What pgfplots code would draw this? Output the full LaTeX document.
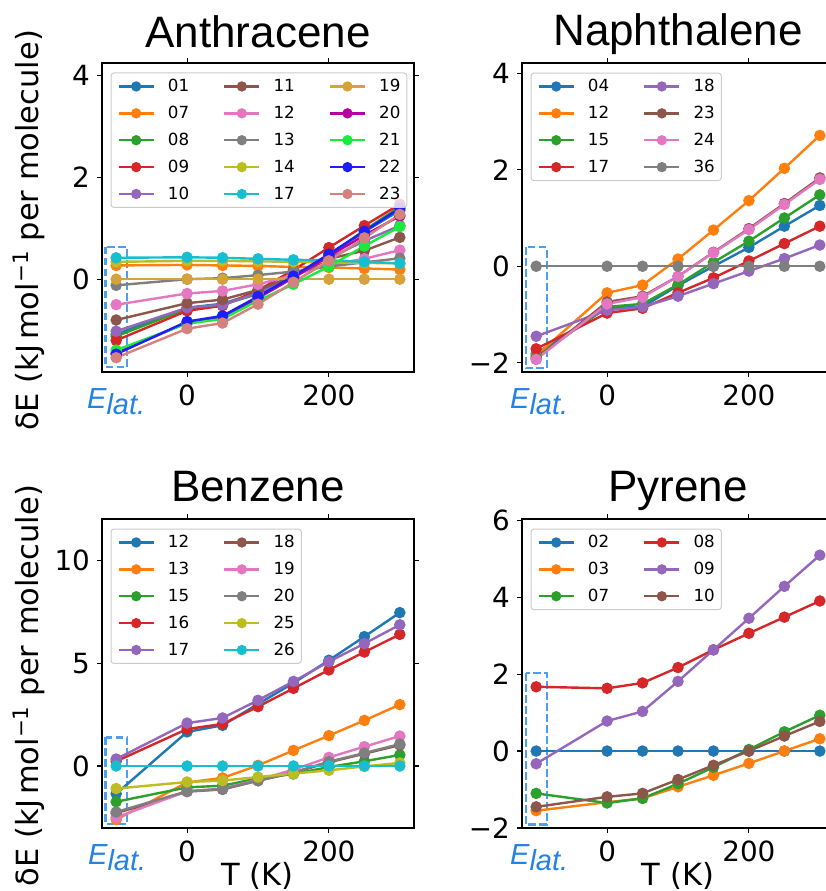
\documentclass[border=0pt]{standalone}
\usepackage{fontspec}
\setmainfont{DejaVu Sans}
\newfontfamily\arialfont{Liberation Sans}
\usepackage{pgfplots}
\pgfplotsset{compat=1.18}

\definecolor{c0}{RGB}{31,119,180}
\definecolor{c1}{RGB}{255,127,14}
\definecolor{c2}{RGB}{44,160,44}
\definecolor{c3}{RGB}{214,39,40}
\definecolor{c4}{RGB}{148,103,189}
\definecolor{c5}{RGB}{140,86,75}
\definecolor{c6}{RGB}{227,119,194}
\definecolor{c7}{RGB}{127,127,127}
\definecolor{c8}{RGB}{188,189,34}
\definecolor{c9}{RGB}{23,190,207}
\definecolor{cgold}{RGB}{214,162,58}
\definecolor{cmag}{RGB}{184,0,160}
\definecolor{clime}{RGB}{25,235,60}
\definecolor{cblue}{RGB}{30,30,250}
\definecolor{crosy}{RGB}{212,130,125}
\definecolor{elatblue}{RGB}{35,130,230}
\definecolor{boxblue}{RGB}{75,160,240}
\definecolor{legedge}{RGB}{204,204,204}

\pgfplotsset{
  myax/.style={
    scale only axis, width=312pt, height=309pt,
    xmin=-120, xmax=320,
    xtick={0,200}, xticklabels={0,200},
    tick align=outside, major tick length=4.9pt,
    tick style={black, line width=1.1pt},
    axis line style={line width=1.1pt},
    ticklabel style={font=\fontsize{27.8}{30}\selectfont, inner sep=0pt},
    xticklabel style={yshift=-8pt},
    yticklabel style={xshift=-7pt},
    every axis plot/.append style={line width=2.4pt, mark=*, mark size=4.5pt, mark options={solid}},
    legend style={at={(0,1)}, anchor=north west, xshift=8.5pt, yshift=-9.5pt,
      draw=legedge, line width=1pt, rounded corners=3pt, fill=white,
      fill opacity=0.8, draw opacity=1, text opacity=1,
      font=\fontsize{16.7}{18}\selectfont, inner sep=6.5pt, row sep=13pt,
      nodes={inner sep=0pt},
      /tikz/every odd column/.style={column sep=13pt},
      /tikz/every even column/.style={column sep=34pt}},
    legend image code/.code={\draw[line width=2.4pt, opacity=1] (0pt,0pt) -- (35pt,0pt);
      \fill[opacity=1] (17.5pt,0pt) circle (3.9pt);},
  },
  leg/.style={line width=2.4pt},
}

\begin{document}
\begin{tikzpicture}
% ---------------- Anthracene ----------------
\begin{axis}[myax, at={(102pt,-372pt)}, ymin=-1.82, ymax=4.24,
  ytick={0,2,4}, yticklabels={0,2,4}, legend columns=3]
\draw[boxblue, line width=2.1pt, dash pattern=on 7.7pt off 3.3pt] (axis cs:-115,0.64) rectangle (axis cs:-85,-1.73);
\addplot[c0, forget plot] coordinates {(-100,-1.08)(0,-0.56)(50,-0.48)(100,-0.26)(150,0.05)(200,0.49)(250,0.93)(300,1.35)};
\addplot[c1, forget plot] coordinates {(-100,0.27)(0,0.28)(50,0.27)(100,0.26)(150,0.24)(200,0.23)(250,0.21)(300,0.19)};
\addplot[c2, forget plot] coordinates {(-100,-1.12)(0,-0.58)(50,-0.50)(100,-0.29)(150,0.04)(200,0.47)(250,0.96)(300,1.42)};
\addplot[c3, forget plot] coordinates {(-100,-1.20)(0,-0.62)(50,-0.52)(100,-0.22)(150,0.18)(200,0.62)(250,1.05)(300,1.47)};
\addplot[c4, forget plot] coordinates {(-100,-1.02)(0,-0.56)(50,-0.50)(100,-0.27)(150,0.04)(200,0.41)(250,0.75)(300,1.05)};
\addplot[c5, forget plot] coordinates {(-100,-0.80)(0,-0.47)(50,-0.40)(100,-0.21)(150,0.06)(200,0.40)(250,0.56)(300,0.82)};
\addplot[c6, forget plot] coordinates {(-100,-0.50)(0,-0.28)(50,-0.23)(100,-0.10)(150,0.08)(200,0.28)(250,0.40)(300,0.57)};
\addplot[c7, forget plot] coordinates {(-100,-0.12)(0,0.00)(50,0.02)(100,0.08)(150,0.15)(200,0.25)(250,0.33)(300,0.41)};
\addplot[c8, forget plot] coordinates {(-100,0.34)(0,0.36)(50,0.36)(100,0.35)(150,0.34)(200,0.33)(250,0.32)(300,0.31)};
\addplot[c9, forget plot] coordinates {(-100,0.42)(0,0.43)(50,0.42)(100,0.40)(150,0.38)(200,0.37)(250,0.34)(300,0.31)};
\addplot[cgold, forget plot] coordinates {(-100,0)(0,0)(50,0)(100,0)(150,0)(200,0)(250,0)(300,0)};
\addplot[cmag, forget plot] coordinates {(-100,-1.45)(0,-0.85)(50,-0.74)(100,-0.37)(150,0.03)(200,0.45)(250,0.86)(300,1.24)};
\addplot[clime, forget plot] coordinates {(-100,-1.39)(0,-0.87)(50,-0.78)(100,-0.42)(150,-0.10)(200,0.25)(250,0.65)(300,1.03)};
\addplot[cblue, forget plot] coordinates {(-100,-1.47)(0,-0.83)(50,-0.72)(100,-0.34)(150,0.06)(200,0.49)(250,0.94)(300,1.39)};
\addplot[crosy, forget plot] coordinates {(-100,-1.54)(0,-0.97)(50,-0.86)(100,-0.49)(150,-0.06)(200,0.36)(250,0.81)(300,1.27)};
\addlegendimage{leg,c0}\addlegendentry{01}
\addlegendimage{leg,c5}\addlegendentry{11}
\addlegendimage{leg,cgold}\addlegendentry{19}
\addlegendimage{leg,c1}\addlegendentry{07}
\addlegendimage{leg,c6}\addlegendentry{12}
\addlegendimage{leg,cmag}\addlegendentry{20}
\addlegendimage{leg,c2}\addlegendentry{08}
\addlegendimage{leg,c7}\addlegendentry{13}
\addlegendimage{leg,clime}\addlegendentry{21}
\addlegendimage{leg,c3}\addlegendentry{09}
\addlegendimage{leg,c8}\addlegendentry{14}
\addlegendimage{leg,cblue}\addlegendentry{22}
\addlegendimage{leg,c4}\addlegendentry{10}
\addlegendimage{leg,c9}\addlegendentry{17}
\addlegendimage{leg,crosy}\addlegendentry{23}
\end{axis}
% ---------------- Naphthalene ----------------
\begin{axis}[myax, at={(522pt,-372pt)}, ymin=-2.19, ymax=4.21,
  ytick={-2,0,2,4}, yticklabels={−2,0,2,4}, legend columns=2]
\draw[boxblue, line width=2.1pt, dash pattern=on 7.7pt off 3.3pt] (axis cs:-115,0.40) rectangle (axis cs:-85,-2.11);
\addplot[c0, forget plot] coordinates {(-100,-1.81)(0,-0.86)(50,-0.84)(100,-0.40)(150,0.00)(200,0.39)(250,0.83)(300,1.26)};
\addplot[c1, forget plot] coordinates {(-100,-1.85)(0,-0.55)(50,-0.39)(100,0.15)(150,0.75)(200,1.36)(250,2.03)(300,2.71)};
\addplot[c2, forget plot] coordinates {(-100,-1.88)(0,-0.84)(50,-0.78)(100,-0.38)(150,0.08)(200,0.52)(250,1.00)(300,1.48)};
\addplot[c3, forget plot] coordinates {(-100,-1.71)(0,-0.97)(50,-0.87)(100,-0.55)(150,-0.24)(200,0.11)(250,0.47)(300,0.83)};
\addplot[c4, forget plot] coordinates {(-100,-1.45)(0,-0.91)(50,-0.84)(100,-0.62)(150,-0.36)(200,-0.10)(250,0.16)(300,0.44)};
\addplot[c5, forget plot] coordinates {(-100,-1.92)(0,-0.74)(50,-0.62)(100,-0.21)(150,0.29)(200,0.78)(250,1.30)(300,1.83)};
\addplot[c6, forget plot] coordinates {(-100,-1.93)(0,-0.78)(50,-0.64)(100,-0.21)(150,0.28)(200,0.76)(250,1.28)(300,1.80)};
\addplot[c7, forget plot] coordinates {(-100,0)(0,0)(50,0)(100,0)(150,0)(200,0)(250,0)(300,0)};
\addlegendimage{leg,c0}\addlegendentry{04}
\addlegendimage{leg,c4}\addlegendentry{18}
\addlegendimage{leg,c1}\addlegendentry{12}
\addlegendimage{leg,c5}\addlegendentry{23}
\addlegendimage{leg,c2}\addlegendentry{15}
\addlegendimage{leg,c6}\addlegendentry{24}
\addlegendimage{leg,c3}\addlegendentry{17}
\addlegendimage{leg,c7}\addlegendentry{36}
\end{axis}
% ---------------- Benzene ----------------
\begin{axis}[myax, at={(102pt,-828pt)}, ymin=-3.02, ymax=12.03,
  ytick={0,5,10}, yticklabels={0,5,10}, legend columns=2]
\draw[boxblue, line width=2.1pt, dash pattern=on 7.7pt off 3.3pt] (axis cs:-115,1.39) rectangle (axis cs:-85,-2.83);
\addplot[c0, forget plot] coordinates {(-100,-1.35)(0,1.66)(50,1.98)(100,3.02)(150,4.04)(200,5.15)(250,6.30)(300,7.47)};
\addplot[c1, forget plot] coordinates {(-100,-2.61)(0,-0.80)(50,-0.58)(100,0.03)(150,0.76)(200,1.48)(250,2.22)(300,2.99)};
\addplot[c2, forget plot] coordinates {(-100,-1.74)(0,-1.04)(50,-0.96)(100,-0.60)(150,-0.39)(200,-0.05)(250,0.23)(300,0.54)};
\addplot[c3, forget plot] coordinates {(-100,0.23)(0,1.80)(50,2.05)(100,2.89)(150,3.78)(200,4.68)(250,5.55)(300,6.41)};
\addplot[c4, forget plot] coordinates {(-100,0.34)(0,2.09)(50,2.34)(100,3.20)(150,4.12)(200,5.08)(250,5.96)(300,6.88)};
\addplot[c5, forget plot] coordinates {(-100,-2.30)(0,-1.25)(50,-1.14)(100,-0.72)(150,-0.33)(200,0.18)(250,0.60)(300,1.02)};
\addplot[c6, forget plot] coordinates {(-100,-2.50)(0,-1.23)(50,-1.10)(100,-0.67)(150,-0.18)(200,0.42)(250,0.94)(300,1.46)};
\addplot[c7, forget plot] coordinates {(-100,-2.24)(0,-1.23)(50,-1.12)(100,-0.71)(150,-0.31)(200,0.21)(250,0.63)(300,1.07)};
\addplot[c8, forget plot] coordinates {(-100,-1.10)(0,-0.78)(50,-0.71)(100,-0.54)(150,-0.37)(200,-0.21)(250,-0.02)(300,0.15)};
\addplot[c9, forget plot] coordinates {(-100,0)(0,0)(50,0)(100,0)(150,0)(200,0)(250,0)(300,0)};
\addlegendimage{leg,c0}\addlegendentry{12}
\addlegendimage{leg,c5}\addlegendentry{18}
\addlegendimage{leg,c1}\addlegendentry{13}
\addlegendimage{leg,c6}\addlegendentry{19}
\addlegendimage{leg,c2}\addlegendentry{15}
\addlegendimage{leg,c7}\addlegendentry{20}
\addlegendimage{leg,c3}\addlegendentry{16}
\addlegendimage{leg,c8}\addlegendentry{25}
\addlegendimage{leg,c4}\addlegendentry{17}
\addlegendimage{leg,c9}\addlegendentry{26}
\end{axis}
% ---------------- Pyrene ----------------
\begin{axis}[myax, at={(522pt,-828pt)}, ymin=-2.0, ymax=6.03,
  ytick={-2,0,2,4,6}, yticklabels={−2,0,2,4,6}, legend columns=2]
\draw[boxblue, line width=2.1pt, dash pattern=on 7.7pt off 3.3pt] (axis cs:-115,2.02) rectangle (axis cs:-85,-1.91);
\addplot[c0, forget plot] coordinates {(-100,0)(0,0)(50,0)(100,0)(150,0)(200,0)(250,0)(300,0)};
\addplot[c1, forget plot] coordinates {(-100,-1.55)(0,-1.33)(50,-1.23)(100,-0.93)(150,-0.63)(200,-0.32)(250,0.00)(300,0.32)};
\addplot[c2, forget plot] coordinates {(-100,-1.10)(0,-1.35)(50,-1.23)(100,-0.85)(150,-0.42)(200,0.04)(250,0.50)(300,0.93)};
\addplot[c3, forget plot] coordinates {(-100,1.67)(0,1.63)(50,1.77)(100,2.17)(150,2.63)(200,3.06)(250,3.48)(300,3.90)};
\addplot[c4, forget plot] coordinates {(-100,-0.33)(0,0.78)(50,1.03)(100,1.81)(150,2.63)(200,3.45)(250,4.28)(300,5.09)};
\addplot[c5, forget plot] coordinates {(-100,-1.45)(0,-1.19)(50,-1.10)(100,-0.74)(150,-0.37)(200,0.00)(250,0.39)(300,0.77)};
\addlegendimage{leg,c0}\addlegendentry{02}
\addlegendimage{leg,c3}\addlegendentry{08}
\addlegendimage{leg,c1}\addlegendentry{03}
\addlegendimage{leg,c4}\addlegendentry{09}
\addlegendimage{leg,c2}\addlegendentry{07}
\addlegendimage{leg,c5}\addlegendentry{10}
\end{axis}
% ---------------- titles and labels ----------------
\begin{scope}[every node/.style={inner sep=0pt}]
\node[anchor=base, font={\arialfont\fontsize{44}{48}\selectfont}] at (258pt,-48pt) {Anthracene};
\node[anchor=base, font={\arialfont\fontsize{44}{48}\selectfont}] at (678pt,-46pt) {Naphthalene};
\node[anchor=base, font={\arialfont\fontsize{44}{48}\selectfont}] at (258pt,-501pt) {Benzene};
\node[anchor=base, font={\arialfont\fontsize{44}{48}\selectfont}] at (678pt,-501pt) {Pyrene};
\node[anchor=base, rotate=90, font={\fontsize{30.5}{32}\selectfont}] at (38pt,-230.5pt) {δE (kJ\,mol\textsuperscript{−1} per molecule)};
\node[anchor=base, rotate=90, font={\fontsize{30.5}{32}\selectfont}] at (38pt,-685.5pt) {δE (kJ\,mol\textsuperscript{−1} per molecule)};
\node[anchor=base, font={\fontsize{30.5}{32}\selectfont}] at (257.5pt,-885pt) {T (K)};
\node[anchor=base, font={\fontsize{30.5}{32}\selectfont}] at (678pt,-885pt) {T (K)};
\foreach \ex/\ey in {87/408, 510/408, 88/864, 510/864}{
  \node[anchor=base west, text=elatblue, font={\arialfont\itshape\fontsize{29}{30}\selectfont}] at (\ex pt,-\ey pt) {E\raisebox{-6.5pt}{lat.}};
}
\end{scope}
\pgfresetboundingbox
\path[use as bounding box] (0pt,0pt) rectangle (825pt,-891pt);
\end{tikzpicture}
\end{document}
